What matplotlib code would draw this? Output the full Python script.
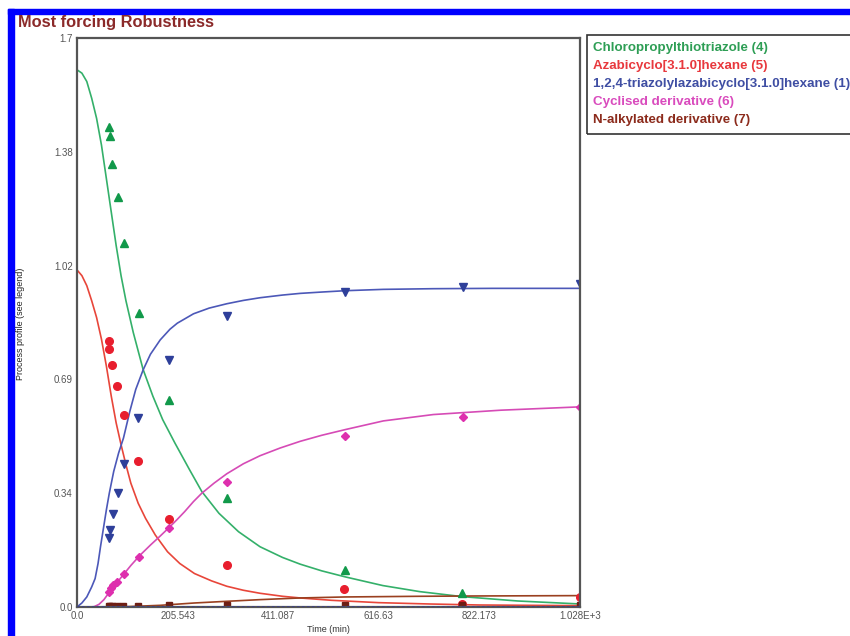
import numpy as np
import matplotlib
matplotlib.use("Agg")
import matplotlib.pyplot as plt
from matplotlib.patches import Rectangle

plt.rcParams["font.family"] = ["Liberation Sans", "DejaVu Sans"]

# measured points (time in min, profile)
t_green = [66, 67.4, 72.5, 83.2, 96, 126.7, 187.4, 307, 547.7, 787.5]
y_green = [1.433, 1.408, 1.324, 1.226, 1.087, 0.877, 0.618, 0.327, 0.111, 0.041]

t_red = [64.8, 66, 72.1, 82.4, 95.4, 124.7, 187.4, 306.6, 546.3, 787.5, 1028]
y_red = [0.796, 0.772, 0.722, 0.661, 0.573, 0.436, 0.263, 0.125, 0.054, 0.009, 0.03]

t_blue = [65.4, 67.4, 73, 83.2, 96, 125.3, 187.4, 306, 547.7, 788.3, 1028]
y_blue = [0.205, 0.230, 0.278, 0.340, 0.427, 0.564, 0.737, 0.869, 0.941, 0.957, 0.965]

t_pink = [65.4, 68.9, 74.2, 82.4, 95.4, 125.9, 187.4, 307, 547.7, 788.3, 1028]
y_pink = [0.046, 0.056, 0.066, 0.076, 0.099, 0.148, 0.235, 0.374, 0.512, 0.567, 0.597]

t_brown = [65, 67, 72, 82, 95, 125, 187, 306, 547, 787, 1028]
y_brown = [0.004, 0.004, 0.004, 0.004, 0.004, 0.004, 0.005, 0.005, 0.006, 0.006, 0.006]

# model curves
c_green_t = [0, 10, 20, 30, 40, 50, 60, 70, 80, 90, 100, 115, 135, 155, 175, 200, 230, 255,
             290, 330, 374, 420, 456, 500, 548, 625, 700, 787, 900, 1028]
c_green_y = [1.605, 1.595, 1.57, 1.52, 1.46, 1.38, 1.28, 1.18, 1.08, 0.99, 0.915, 0.82, 0.71,
             0.63, 0.56, 0.49, 0.41, 0.345, 0.28, 0.225, 0.18, 0.148, 0.128, 0.108, 0.09,
             0.064, 0.046, 0.031, 0.018, 0.009]

c_red_t = [0, 10, 20, 30, 40, 50, 60, 70, 80, 90, 100, 110, 125, 140, 160, 185, 210, 240,
           275, 306, 340, 374, 420, 456, 520, 616, 720, 822, 1028]
c_red_y = [1.007, 0.99, 0.96, 0.915, 0.865, 0.80, 0.72, 0.63, 0.55, 0.485, 0.425, 0.37, 0.31,
           0.265, 0.215, 0.165, 0.13, 0.10, 0.078, 0.062, 0.05, 0.041, 0.032, 0.027, 0.02,
           0.013, 0.009, 0.006, 0.004]

c_blue_t = [0, 10, 20, 30, 37, 43, 48, 54, 60, 66, 75, 85, 95, 108, 120, 135, 150, 170, 190,
            205, 238, 270, 306, 340, 374, 420, 456, 500, 548, 626, 728, 850, 1028]
c_blue_y = [0, 0.012, 0.03, 0.06, 0.085, 0.13, 0.18, 0.235, 0.29, 0.34, 0.405, 0.46, 0.505,
            0.585, 0.65, 0.708, 0.755, 0.798, 0.83, 0.848, 0.876, 0.893, 0.906, 0.916, 0.924,
            0.932, 0.937, 0.941, 0.945, 0.949, 0.951, 0.952, 0.952]

c_pink_t = [0, 26, 35, 45, 55, 67, 80, 95, 110, 129, 150, 170, 190, 205, 220, 238, 255, 280,
            306, 340, 374, 415, 456, 500, 548, 626, 728, 866, 1028]
c_pink_y = [0, 0, 0.001, 0.008, 0.022, 0.046, 0.07, 0.097, 0.124, 0.155, 0.185, 0.212, 0.24,
            0.262, 0.285, 0.315, 0.34, 0.37, 0.398, 0.428, 0.452, 0.475, 0.495, 0.513, 0.53,
            0.556, 0.575, 0.588, 0.598]

c_brown_t = [0, 100, 170, 240, 306, 374, 456, 548, 700, 822, 1028]
c_brown_y = [0, 0.001, 0.005, 0.012, 0.017, 0.022, 0.027, 0.030, 0.032, 0.033, 0.034]

x_ticks = [0, 205.543, 411.087, 616.63, 822.173, 1027.717]
x_labels = ["0.0", "205.543", "411.087", "616.63", "822.173", "1.028E+3"]
y_ticks = [0, 0.34, 0.68, 1.02, 1.36, 1.7]
y_labels = ["0.0", "0.34", "0.69", "1.02", "1.38", "1.7"]

names = ["Chloropropylthiotriazole (4)", "Azabicyclo[3.1.0]hexane (5)",
         "1,2,4-triazolylazabicyclo[3.1.0]hexane (1)", "Cyclised derivative (6)",
         "N-alkylated derivative (7)"]
text_cols = ["#2e9e55", "#e8383d", "#3f4ea3", "#d94bbd", "#8c2b1c"]

W, H = 850, 636
fig = plt.figure(figsize=(W / 100, H / 100), dpi=100)

# blue frame (cropped on right and bottom)
fig.patches.append(Rectangle((8 / W, 0), 6 / W, (H - 9) / H, transform=fig.transFigure,
                             color="#0000ff", zorder=0))
fig.patches.append(Rectangle((8 / W, (H - 14) / H), (W - 8) / W, 5 / H, transform=fig.transFigure,
                             color="#0000ff", zorder=0))

ax = fig.add_axes([77 / W, (H - 607) / H, 503 / W, 569 / H])

ax.plot(c_green_t, c_green_y, color="#34b06a", lw=1.2)
ax.plot(c_red_t, c_red_y, color="#e8463a", lw=1.2)
ax.plot(c_blue_t, c_blue_y, color="#4c58b8", lw=1.2)
ax.plot(c_pink_t, c_pink_y, color="#d64bb6", lw=1.2)
ax.plot(c_brown_t, c_brown_y, color="#9a4020", lw=1.2)

ax.plot(t_green, y_green, "^", color="#11994a", ms=6, ls="none")
ax.plot(t_red, y_red, "o", color="#e81e2e", ms=5.5, ls="none")
ax.plot(t_blue, y_blue, "v", color="#2e3f9a", ms=6, ls="none")
ax.plot(t_pink, y_pink, "D", color="#de2fae", ms=4.2, ls="none")
ax.plot(t_brown, y_brown, "s", color="#6e1e14", ms=5, ls="none")

# dotted zero line
ax.axhline(0, color="#3a3f8a", lw=1.2, ls=(0, (1.5, 1.5)), zorder=5)

ax.set_xlim(0, 1027.717)
ax.set_ylim(0, 1.7)
ax.set_xticks(x_ticks)
ax.set_xticklabels(x_labels)
ax.set_yticks(y_ticks)
ax.set_yticklabels(y_labels)
ax.tick_params(length=0, labelsize=7, labelcolor="#555555", pad=3)
for s in ax.spines.values():
    s.set_color("#555555")
    s.set_linewidth(1.6)

fig.text(328 / W, 1 - 630 / H, "Time (min)", fontsize=6.5, color="#333333",
         ha="center", va="center")
fig.text(21 / W, 1 - 324 / H, "Process profile (see legend)", fontsize=6.5, color="#222222",
         rotation=90, ha="center", va="center")

fig.text(18 / W, 1 - 22 / H, "Most forcing Robustness", fontsize=11.8, fontweight="bold",
         color="#8b2a2a", va="center")

# legend box
fig.patches.append(Rectangle((587 / W, (H - 134) / H), 275 / W, 99 / H, transform=fig.transFigure,
                             fill=False, ec="#333333", lw=1.2))
for i, (n, c) in enumerate(zip(names, text_cols)):
    fig.text(593 / W, 1 - (48 + i * 18) / H, n, fontsize=9.6, fontweight="bold",
             color=c, va="center")

fig.savefig("out.png", dpi=100)
